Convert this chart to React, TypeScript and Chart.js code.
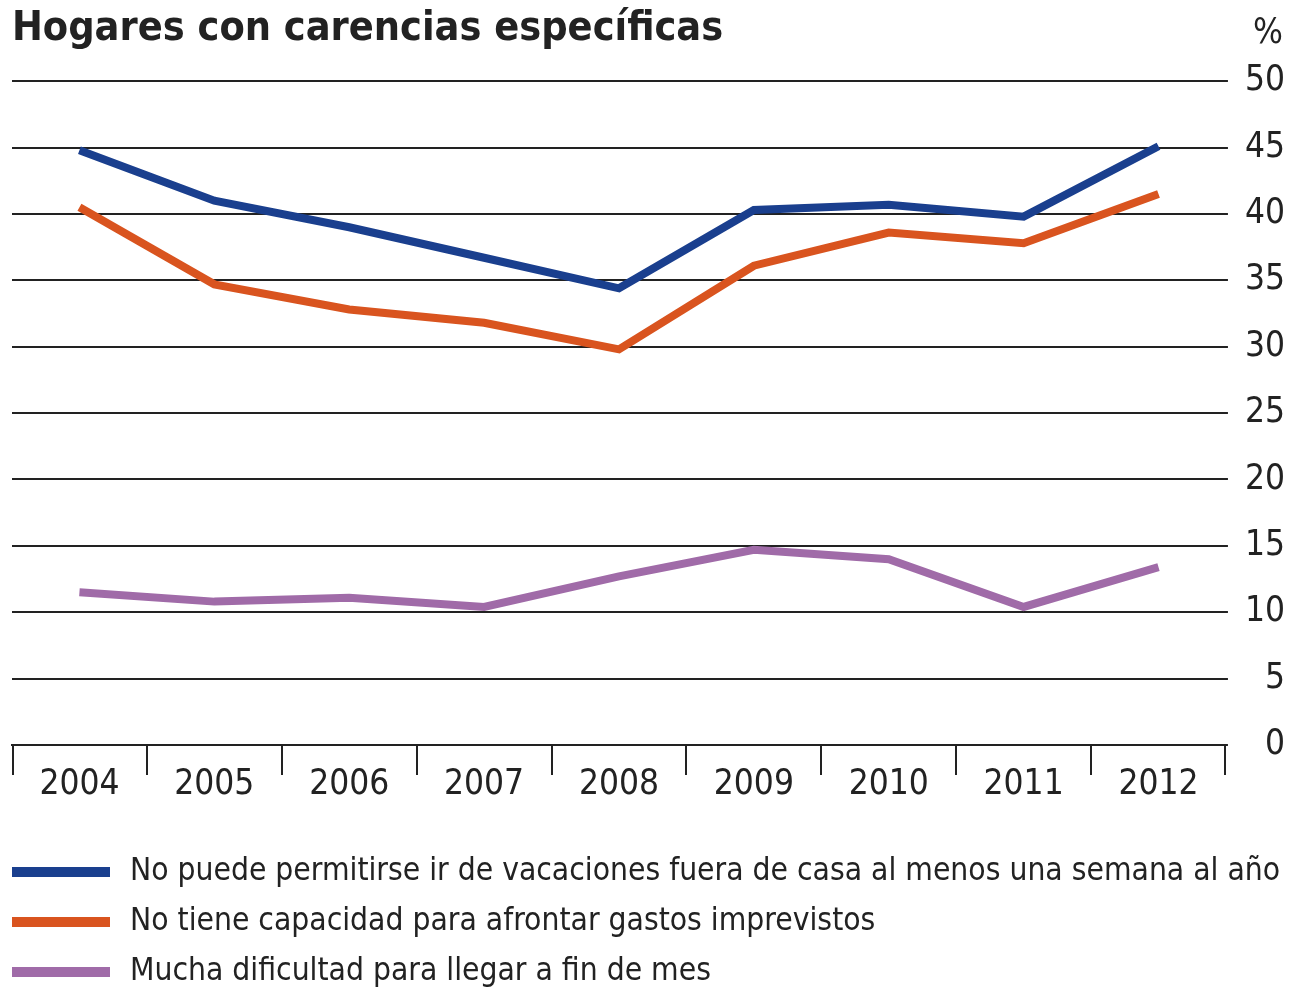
import React, { useEffect, useRef } from "react";
import { Chart, registerables } from "chart.js";

Chart.register(...registerables);

const years = ["2004", "2005", "2006", "2007", "2008", "2009", "2010", "2011", "2012"];
const vacaciones = [44.8, 41.0, 39.0, 36.7, 34.4, 40.3, 40.7, 39.8, 45.1];
const imprevistos = [40.5, 34.7, 32.8, 31.8, 29.8, 36.1, 38.6, 37.8, 41.5];
const finDeMes = [11.5, 10.8, 11.1, 10.4, 12.7, 14.7, 14.0, 10.4, 13.4];
const seriesNames = [
  "No puede permitirse ir de vacaciones fuera de casa al menos una semana al año",
  "No tiene capacidad para afrontar gastos imprevistos",
  "Mucha dificultad para llegar a fin de mes",
];
const titleText = "Hogares con carencias específicas";
const unitText = "%";

const FONT = "'Liberation Sans Narrow', 'DejaVu Sans Condensed', 'Liberation Sans', sans-serif";
const INK = "#222222";
const COLORS = ["#1a3f8e", "#d9541f", "#a06ba8"];

const extrasPlugin = {
  id: "extras",
  afterDraw(chart: any) {
    const ctx = chart.ctx;
    const y = chart.scales.y;
    const area = chart.chartArea;
    ctx.save();
    // category boundary tick marks below the x axis
    ctx.strokeStyle = INK;
    ctx.lineWidth = 2;
    const n = chart.data.labels.length;
    for (let i = 0; i <= n; i++) {
      const px = Math.round(area.left + (i * (area.right - area.left)) / n) + (i === 0 ? 1 : i === n ? -1 : 0);
      ctx.beginPath();
      ctx.moveTo(px, area.bottom);
      ctx.lineTo(px, area.bottom + 30);
      ctx.stroke();
    }
    ctx.fillStyle = INK;
    ctx.font = `35px ${FONT}`;
    ctx.textAlign = "right";
    ctx.textBaseline = "middle";
    ctx.fillText(unitText, y.right - 2, area.top - 47);
    // legend rows
    ctx.textAlign = "left";
    ctx.font = `31.5px ${FONT}`;
    const startY = area.bottom + 127;
    const gap = 50;
    chart.data.datasets.forEach((ds: any, i: number) => {
      const cy = startY + i * gap;
      ctx.fillStyle = ds.borderColor;
      ctx.fillRect(12, cy - 5, 98, 10);
      ctx.fillStyle = INK;
      ctx.fillText(ds.label, 130, cy);
    });
    ctx.restore();
  },
};

export default function App() {
  const ref = useRef<HTMLCanvasElement | null>(null);
  useEffect(() => {
    if (!ref.current) return;
    const mk = (label: string, data: number[], color: string) => ({
      label,
      data,
      borderColor: color,
      backgroundColor: color,
      borderWidth: 8,
      pointRadius: 0,
      tension: 0,
      borderJoinStyle: "miter" as const,
      borderCapStyle: "butt" as const,
    });
    const chart = new Chart(ref.current, {
      type: "line",
      data: {
        labels: years,
        datasets: [
          mk(seriesNames[0], vacaciones, COLORS[0]),
          mk(seriesNames[1], imprevistos, COLORS[1]),
          mk(seriesNames[2], finDeMes, COLORS[2]),
        ],
      },
      options: {
        animation: false,
        responsive: false,
        maintainAspectRatio: false,
        layout: { padding: { left: 12, right: 6, top: 0, bottom: 164 } },
        plugins: {
          legend: { display: false },
          tooltip: { enabled: false },
          title: {
            display: true,
            text: titleText,
            align: "start",
            color: INK,
            font: { family: FONT, size: 41, weight: "bold" },
            padding: { top: 5, bottom: 27 },
          },
        },
        scales: {
          x: {
            offset: true,
            grid: {
              display: false,
              drawTicks: false,
            },
            border: { display: true, color: INK, width: 2 },
            ticks: {
              color: INK,
              padding: 19,
              font: { family: FONT, size: 35 },
              maxRotation: 0,
            },
          },
          y: {
            position: "right",
            min: 0,
            max: 50,
            ticks: {
              stepSize: 5,
              color: INK,
              padding: 8.5,
              crossAlign: "far",
              font: { family: FONT, size: 35 },
            },
            grid: { color: INK, lineWidth: 2, tickLength: 2 },
            border: { display: false },
          },
        },
      },
      plugins: [extrasPlugin],
    });
    return () => chart.destroy();
  }, []);
  return (
    <div style={{ position: "fixed", left: 0, top: 0, width: 1291, height: 989, background: "#fff" }}>
      <canvas ref={ref} width={1291} height={989} style={{ width: 1291, height: 989 }} />
    </div>
  );
}
